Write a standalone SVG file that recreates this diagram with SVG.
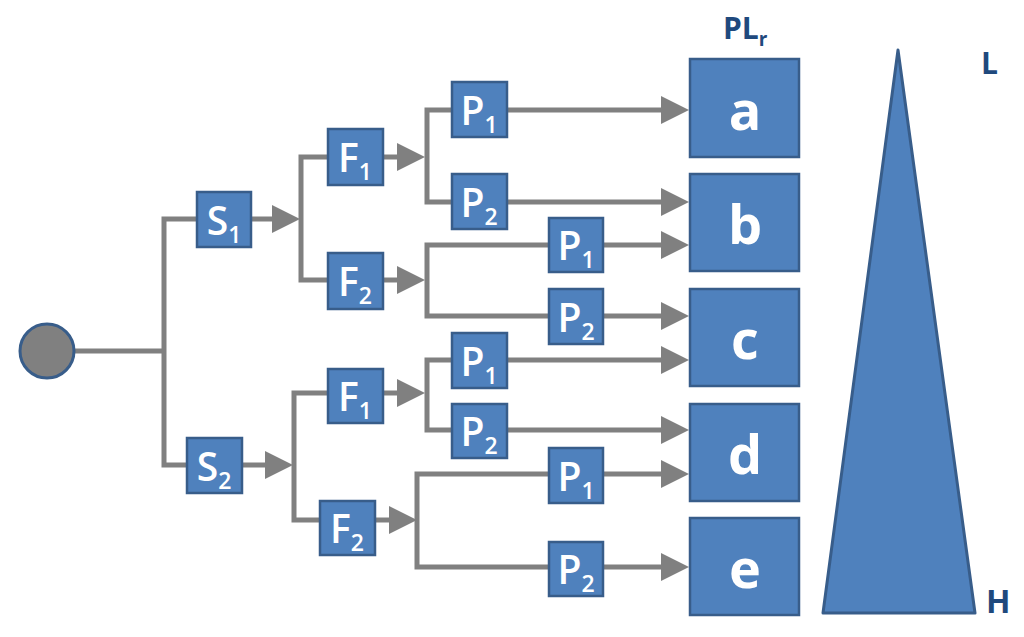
<svg xmlns="http://www.w3.org/2000/svg" width="1024" height="637" viewBox="0 0 1024 637">
<defs>
<marker id="ah" markerUnits="userSpaceOnUse" markerWidth="28" markerHeight="30" viewBox="0 0 28 30" refX="18" refY="15" orient="auto">
<path d="M0,1 L28,15 L0,29 z" fill="#808080"/>
</marker>
<style>
.ln{fill:none;stroke:#808080;stroke-width:5;stroke-linejoin:miter}
.ar{fill:none;stroke:#808080;stroke-width:5;marker-end:url(#ah)}
.bx{fill:#4F81BD;stroke:#385D8A;stroke-width:2.5}
.t{font-family:"Open Sans","Noto Sans",sans-serif;fill:#fff;font-weight:600;text-anchor:middle}
.m{font-size:39px}
.s{font-size:23px}
.big{font-family:"Open Sans","Noto Sans",sans-serif;fill:#fff;font-weight:700;font-size:54px;text-anchor:middle}
.lab{font-family:"Open Sans","Noto Sans",sans-serif;fill:#1F497D;font-weight:700}
</style>
</defs>
<rect width="1024" height="637" fill="#fff"/>
<g id="connectors">
<path class="ln" d="M74,351 H164"/>
<path class="ln" d="M197,219 H164 V465 H187"/>
<path class="ar" d="M251,219 H290"/>
<path class="ln" d="M328,157 H301 V280 H328"/>
<path class="ar" d="M242,465 H283"/>
<path class="ln" d="M328,393 H294 V520 H320"/>
<path class="ar" d="M383,157 H415"/>
<path class="ln" d="M452,110 H427 V202 H452"/>
<path class="ar" d="M383,280 H415"/>
<path class="ln" d="M549,245 H427 V316 H549"/>
<path class="ar" d="M383,393 H415"/>
<path class="ln" d="M452,360 H427 V430 H452"/>
<path class="ar" d="M375,520 H407"/>
<path class="ln" d="M549,474 H417 V567 H549"/>
<path class="ar" d="M507,110 H679"/>
<path class="ar" d="M507,202 H679"/>
<path class="ar" d="M603,245 H679"/>
<path class="ar" d="M603,316 H679"/>
<path class="ar" d="M507,360 H679"/>
<path class="ar" d="M507,430 H679"/>
<path class="ar" d="M603,474 H679"/>
<path class="ar" d="M603,567 H679"/>
</g>
<g id="start"><circle cx="47" cy="351" r="27" fill="#808080" stroke="#385D8A" stroke-width="3"/></g>
<g id="S1"><rect class="bx" x="197" y="192" width="54" height="55"/><text class="t" x="224" y="235"><tspan class="m">S</tspan><tspan class="s" dy="8">1</tspan></text></g>
<g id="S2"><rect class="bx" x="187" y="438" width="55" height="55"/><text class="t" x="214" y="481"><tspan class="m">S</tspan><tspan class="s" dy="8">2</tspan></text></g>
<g id="F1a"><rect class="bx" x="328" y="129" width="55" height="56"/><text class="t" x="355" y="172"><tspan class="m">F</tspan><tspan class="s" dy="8">1</tspan></text></g>
<g id="F2a"><rect class="bx" x="328" y="253" width="55" height="56"/><text class="t" x="355" y="296"><tspan class="m">F</tspan><tspan class="s" dy="8">2</tspan></text></g>
<g id="F1b"><rect class="bx" x="328" y="369" width="55" height="54"/><text class="t" x="355" y="411"><tspan class="m">F</tspan><tspan class="s" dy="8">1</tspan></text></g>
<g id="F2b"><rect class="bx" x="320" y="501" width="55" height="54"/><text class="t" x="347" y="543"><tspan class="m">F</tspan><tspan class="s" dy="8">2</tspan></text></g>
<g id="P1a"><rect class="bx" x="452" y="82" width="55" height="55"/><text class="t" x="479" y="125"><tspan class="m">P</tspan><tspan class="s" dy="8">1</tspan></text></g>
<g id="P2a"><rect class="bx" x="452" y="174" width="55" height="55"/><text class="t" x="479" y="217"><tspan class="m">P</tspan><tspan class="s" dy="8">2</tspan></text></g>
<g id="P1b"><rect class="bx" x="549" y="218" width="54" height="54"/><text class="t" x="576" y="260"><tspan class="m">P</tspan><tspan class="s" dy="8">1</tspan></text></g>
<g id="P2b"><rect class="bx" x="549" y="289" width="54" height="55"/><text class="t" x="576" y="332"><tspan class="m">P</tspan><tspan class="s" dy="8">2</tspan></text></g>
<g id="P1c"><rect class="bx" x="452" y="333" width="55" height="55"/><text class="t" x="479" y="376"><tspan class="m">P</tspan><tspan class="s" dy="8">1</tspan></text></g>
<g id="P2c"><rect class="bx" x="452" y="404" width="55" height="54"/><text class="t" x="479" y="446"><tspan class="m">P</tspan><tspan class="s" dy="8">2</tspan></text></g>
<g id="P1d"><rect class="bx" x="549" y="448" width="54" height="55"/><text class="t" x="576" y="491"><tspan class="m">P</tspan><tspan class="s" dy="8">1</tspan></text></g>
<g id="P2d"><rect class="bx" x="549" y="542" width="54" height="54"/><text class="t" x="576" y="584"><tspan class="m">P</tspan><tspan class="s" dy="8">2</tspan></text></g>
<g id="a"><rect class="bx" x="690" y="59" width="109" height="98"/><text class="big" x="745" y="130">a</text></g>
<g id="b"><rect class="bx" x="690" y="174" width="109" height="97"/><text class="big" x="745" y="244">b</text></g>
<g id="c"><rect class="bx" x="690" y="289" width="109" height="97"/><text class="big" x="745" y="359">c</text></g>
<g id="d"><rect class="bx" x="690" y="404" width="109" height="97"/><text class="big" x="745" y="474">d</text></g>
<g id="e"><rect class="bx" x="690" y="518" width="109" height="97"/><text class="big" x="745" y="588">e</text></g>
<g id="scale"><polygon points="898,50 975,613 823,613" fill="#4F81BD" stroke="#385D8A" stroke-width="3" stroke-linejoin="round"/></g>
<g id="labels">
<text class="lab" x="723" y="39" font-size="30">PL<tspan font-size="19" dy="7">r</tspan></text>
<text class="lab" x="981" y="74" font-size="30">L</text>
<text class="lab" x="986" y="613" font-size="32">H</text>
</g>
</svg>
